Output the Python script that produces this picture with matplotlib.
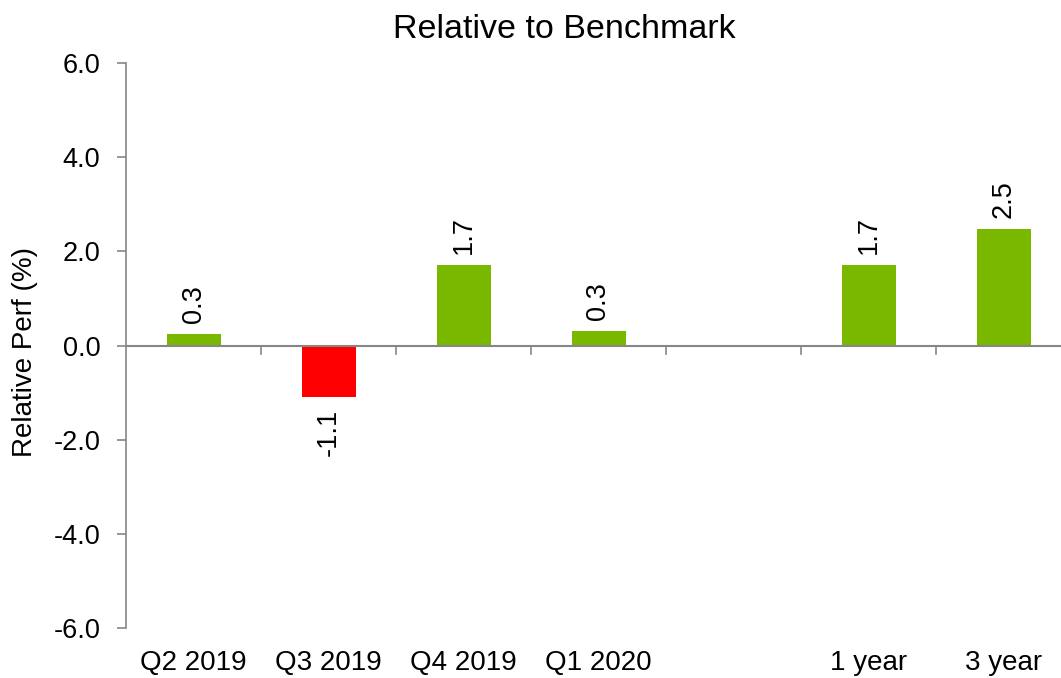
import matplotlib.pyplot as plt
from matplotlib.ticker import FixedLocator, FormatStrFormatter

categories = ["Q2 2019", "Q3 2019", "Q4 2019", "Q1 2020", "", "1 year", "3 year"]
values = [0.25, -1.1, 1.7, 0.3, None, 1.7, 2.48]
labels = ["0.3", "-1.1", "1.7", "0.3", "", "1.7", "2.5"]

GREEN = "#7ab800"
RED = "#ff0000"
GRAY = "#868686"
W, H = 1061, 678

plt.rcParams["font.family"] = ["Liberation Sans", "DejaVu Sans"]

fig = plt.figure(figsize=(W / 100, H / 100), dpi=100)
# plot area runs a little past the right edge, as in the reference
ax = fig.add_axes([126 / W, 50 / H, 945 / W, 565 / H])

xs = list(range(len(categories)))
for x, v, lab in zip(xs, values, labels):
    if v is None:
        continue
    ax.bar(x, v, width=0.4, color=GREEN if v >= 0 else RED, zorder=2)
    if v >= 0:
        ax.annotate(lab, (x, v), xytext=(0, 8), textcoords="offset points",
                    rotation=90, ha="center", va="bottom", fontsize=19.5)
    else:
        ax.annotate(lab, (x, v), xytext=(0, -8), textcoords="offset points",
                    rotation=90, ha="center", va="top", fontsize=19.5)

ax.set_xlim(-0.5, len(categories) - 0.5)
ax.set_ylim(-6, 6)
ax.yaxis.set_major_locator(FixedLocator([-6, -4, -2, 0, 2, 4, 6]))
ax.yaxis.set_major_formatter(FormatStrFormatter("%.1f"))

for s in ["top", "right", "bottom"]:
    ax.spines[s].set_visible(False)
ax.spines["left"].set_color(GRAY)
ax.spines["left"].set_linewidth(1.2)
ax.axhline(0, color=GRAY, linewidth=1.5, zorder=3)

ax.tick_params(axis="y", direction="out", length=6.5, color=GRAY, width=1.2,
               labelsize=19.5, pad=12)
# category boundary ticks hang down from the zero line
for b in range(1, len(categories)):
    ax.plot([b - 0.5, b - 0.5], [0, -0.17], color=GRAY, linewidth=1.2,
            clip_on=False, zorder=3)
ax.set_xticks(xs)
ax.set_xticklabels(categories, fontsize=20)
ax.tick_params(axis="x", length=0, pad=16)

fig.text(25 / W, 1 - 352 / H, "Relative Perf (%)", rotation=90,
         ha="center", va="center", fontsize=20)
fig.text(564 / W, 1 - 38 / H, "Relative to Benchmark", ha="center",
         va="baseline", fontsize=24.5)

fig.savefig("out.png", dpi=100)
